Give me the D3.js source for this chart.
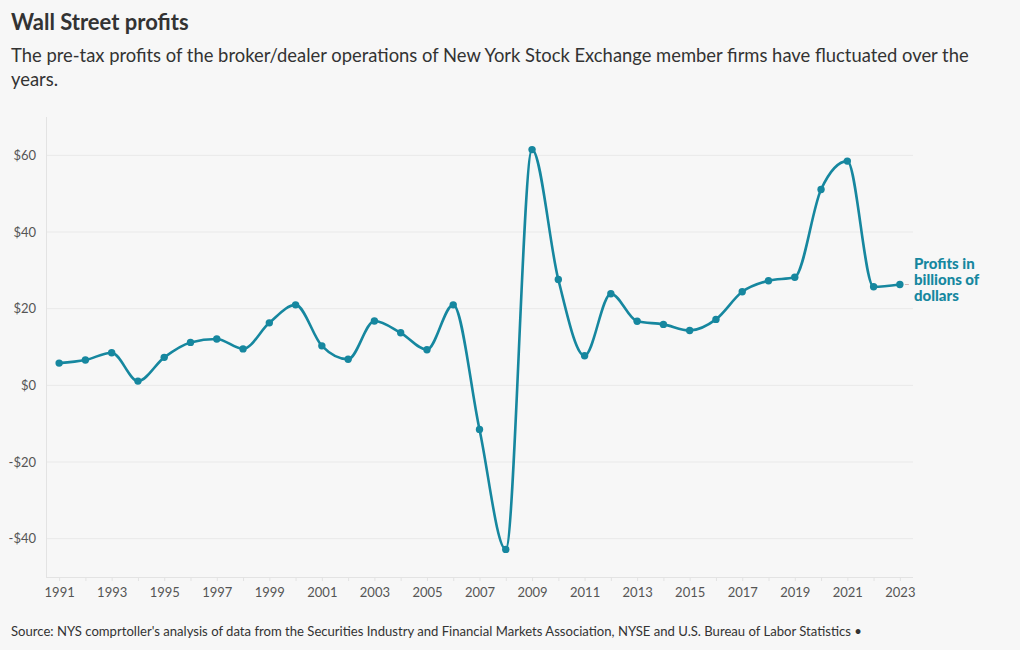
<!DOCTYPE html>
<html>
<head>
<meta charset="utf-8">
<script src="https://cdn.jsdelivr.net/npm/d3@7"></script>
<style>
  html, body { margin: 0; padding: 0; background: #f7f7f7; }
  svg { display: block; font-family: "Source Sans Pro", Lato, "Noto Sans", sans-serif; }
</style>
</head>
<body>
<svg id="chart" width="1020" height="650"></svg>
<script>
const years = d3.range(1991, 2024);
const profits = [5.8, 6.6, 8.5, 1.1, 7.3, 11.2, 12.1, 9.5, 16.3, 21.0,
                 10.3, 6.8, 16.8, 13.7, 9.3, 21.0, -11.5, -42.8, 61.5, 27.6,
                 7.7, 23.9, 16.7, 15.9, 14.3, 17.2, 24.4, 27.3, 28.2, 51.1,
                 58.5, 25.7, 26.3];
const yTicks = [-40, -20, 0, 20, 40, 60];
const xTickYears = d3.range(1991, 2024, 2);
const seriesLabel = ["Profits in", "billions of", "dollars"];
const titleText = "Wall Street profits";
const subtitleLines = ["The pre-tax profits of the broker/dealer operations of New York Stock Exchange member firms have fluctuated over the", "years."];
const sourceText = "Source: NYS comprtoller's analysis of data from the Securities Industry and Financial Markets Association, NYSE and U.S. Bureau of Labor Statistics \u2022";

const data = years.map((y, i) => ({ year: y, value: profits[i] }));
const svg = d3.select("#chart");
const color = "#16879f";

const x = d3.scaleLinear().domain([1990.5, 2023.5]).range([46, 913]);
const y = d3.scaleLinear().domain([-50, 70]).range([577, 117]);

// Title & subtitle
svg.append("text").attr("x", 11).attr("y", 30)
  .attr("font-size", 22).attr("font-weight", 700).attr("fill", "#333")
  .text(titleText);
const sub = svg.append("text").attr("x", 11).attr("y", 62)
  .attr("font-size", 18.4).attr("fill", "#333");
subtitleLines.forEach((l, i) => sub.append("tspan").attr("x", 11).attr("dy", i ? 24 : 0).text(l));

// Gridlines
svg.append("g").selectAll("line").data(yTicks).join("line")
  .attr("x1", 46).attr("x2", 913)
  .attr("y1", d => y(d)).attr("y2", d => y(d))
  .attr("stroke", "#e9e9e9").attr("stroke-width", 1);

// Left axis line
svg.append("line").attr("x1", 46.5).attr("x2", 46.5).attr("y1", 117).attr("y2", 577)
  .attr("stroke", "#e3e3e3");

// Y axis labels
svg.append("g").selectAll("text").data(yTicks).join("text")
  .attr("x", 36).attr("y", d => y(d)).attr("dy", "0.35em")
  .attr("text-anchor", "end").attr("font-size", 13).attr("fill", "#555")
  .text(d => (d < 0 ? "-$" : "$") + Math.abs(d));

// X axis
const xAxis = d3.axisBottom(x).tickValues(years).tickSize(4).tickFormat(d => xTickYears.includes(d) ? d : "");
const gx = svg.append("g").attr("transform", "translate(0,577)").call(xAxis);
gx.select(".domain").attr("stroke", "#e3e3e3").attr("d", "M46,0.5H913");
gx.selectAll(".tick line").attr("stroke", "#e3e3e3");
gx.selectAll(".tick text").attr("font-size", 13).attr("fill", "#555")
  .attr("font-family", "\"Source Sans Pro\", Lato, \"Noto Sans\", sans-serif").attr("y", 11);

// Line
const line = d3.line().x(d => x(d.year)).y(d => y(d.value)).curve(d3.curveMonotoneX);
svg.append("path").datum(data).attr("d", line)
  .attr("fill", "none").attr("stroke", color).attr("stroke-width", 2.6);

svg.append("g").selectAll("circle").data(data).join("circle")
  .attr("cx", d => x(d.year)).attr("cy", d => y(d.value)).attr("r", 3.7)
  .attr("fill", color);

// Series label
const last = data[data.length - 1];
svg.append("line").attr("x1", x(last.year) + 5).attr("x2", x(last.year) + 9)
  .attr("y1", y(last.value)).attr("y2", y(last.value)).attr("stroke", "#d4b5b5");
const lab = svg.append("text").attr("x", 914).attr("y", y(last.value) - 16)
  .attr("dy", "0.35em").attr("font-size", 15).attr("font-weight", 900).attr("fill", color);
seriesLabel.forEach((l, i) => lab.append("tspan").attr("x", 914).attr("dy", i ? 16 : 0).text(l));

// Source
svg.append("text").attr("x", 11).attr("y", 636).attr("font-size", 13.1).attr("fill", "#333")
  .text(sourceText);
</script>
</body>
</html>
